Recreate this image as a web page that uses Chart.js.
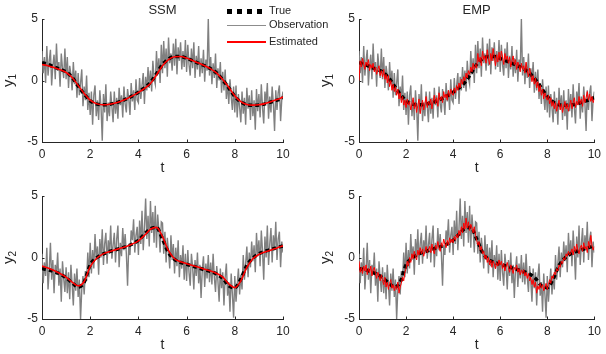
<!DOCTYPE html>
<html>
<head>
<meta charset="utf-8">
<script src="https://cdn.jsdelivr.net/npm/chart.js@4/dist/chart.umd.min.js"></script>
<style>
  body { margin: 0; background: #fff; width: 606px; height: 354px; overflow: hidden; position: relative; }
  canvas { position: absolute; }
  #legend { position: absolute; left: 227px; top: 3px; font: 11px "Liberation Sans", Arial, sans-serif; color: #262626; z-index: 5; }
  #legend .row { position: absolute; left: 0; white-space: nowrap; }
  #legend .txt { position: absolute; left: 42px; top: -7px; }
  #legend .ln { position: absolute; left: 0; width: 39px; }
</style>
</head>
<body>
<canvas id="c11" width="303" height="177" style="left:0;top:0"></canvas>
<canvas id="c12" width="303" height="177" style="left:303px;top:0"></canvas>
<canvas id="c21" width="303" height="177" style="left:0;top:177px"></canvas>
<canvas id="c22" width="303" height="177" style="left:303px;top:177px"></canvas>
<div id="legend">
  <div class="row" style="top:8px"><div class="ln" style="top:-2px;height:5px;width:36px;background:repeating-linear-gradient(90deg,#000 0 5px,transparent 5px 10px)"></div><span class="txt">True</span></div>
  <div class="row" style="top:21.5px"><div class="ln" style="top:0;height:1px;background:#8c8c8c"></div><span class="txt">Observation</span></div>
  <div class="row" style="top:38.5px"><div class="ln" style="top:-1px;height:2px;background:#ff0000"></div><span class="txt">Estimated</span></div>
</div>
<script>
  Chart.defaults.font.family = '"Liberation Sans", Arial, sans-serif';
  Chart.defaults.font.size = 12;
  Chart.defaults.color = '#262626';

  // sample times
  const tTrue = Array.from({ length: 41 }, (_, i) => i * 0.25);
  const tObs = Array.from({ length: 201 }, (_, i) => i * 0.05);
  const xTicks = [0, 2, 4, 6, 8, 10];
  const yTicks = [-5, 0, 5];

  // true states (every 0.25)
  const trueY1 = [1.45, 1.3, 1.1, 0.9, 0.7, 0.25, -0.45, -1.1, -1.65, -1.9, -1.97, -1.95, -1.85, -1.7, -1.5, -1.25, -0.95, -0.6, -0.15, 0.55,
    1.3, 1.75, 1.95, 1.95, 1.8, 1.6, 1.4, 1.2, 0.95, 0.6, 0.05, -0.6, -1.3, -1.75, -1.97, -2.02, -2.0, -1.9, -1.75, -1.6, -1.4];
  const trueY2 = [-0.9, -1.0, -1.15, -1.35, -1.65, -2.05, -2.4, -2.0, -0.6, -0.05, 0.25, 0.45, 0.6, 0.75, 0.9, 1.1, 1.4, 1.9, 2.35, 2.45,
    1.5, 0.4, -0.15, -0.4, -0.55, -0.7, -0.85, -1.0, -1.15, -1.35, -1.7, -2.3, -2.45, -1.75, -0.65, -0.05, 0.3, 0.5, 0.65, 0.8, 0.95];

  // SSM estimates (every 0.25)
  const ssmY1 = [1.3, 1.2, 1.05, 0.88, 0.65, 0.25, -0.4, -1.05, -1.6, -1.88, -1.97, -1.95, -1.85, -1.7, -1.5, -1.25, -0.97, -0.65, -0.25, 0.45,
    1.2, 1.7, 1.93, 1.95, 1.82, 1.62, 1.42, 1.2, 0.95, 0.6, 0.08, -0.55, -1.25, -1.72, -1.95, -2.0, -1.97, -1.88, -1.72, -1.55, -1.35];
  const ssmY2 = [-0.7, -0.85, -1.05, -1.3, -1.6, -2.0, -2.3, -1.95, -0.75, -0.1, 0.25, 0.45, 0.6, 0.75, 0.9, 1.1, 1.35, 1.8, 2.3, 2.45,
    1.7, 0.55, -0.1, -0.35, -0.5, -0.65, -0.8, -0.95, -1.1, -1.3, -1.6, -2.15, -2.45, -1.9, -0.8, -0.1, 0.25, 0.45, 0.6, 0.78, 0.95];

  // observations (every 0.05)
  const obsY1 = [2.4, 0.6, 1.9, -0.2, 2.8, 0.4, 1.6, 2.5, -0.4, 1.2, 2.1, 0.1, 3.0, 0.8, 1.5, -0.5, 2.2, 1.0, 0.2, 2.6,
    0.1, 1.9, -0.6, 1.2, 0.5, -0.8, 1.5, -0.3, 0.8, -1.4, 0.6, -1.2, -0.2, 0.9, -2.1, -0.5, -1.6, 0.4, -2.4, -1.0,
    -2.8, -0.9, -3.6, -1.2, -0.4, -2.9, -1.6, -3.2, -0.8, -2.2, -4.9, -1.1, -2.6, -0.3, -3.3, -1.8, -2.9, -0.9, -2.1, -3.4,
    -0.9, -2.7, -1.4, -3.1, -0.6, -2.0, -1.2, -3.0, -0.5, -1.9, -2.6, -0.7, -1.5, -2.8, -0.2, -1.7, -0.8, -2.4, 0.1, -1.6,
    -1.8, 0.2, -1.5, -0.4, 0.6, -1.9, 0.3, -0.8, 1.1, -0.6, 0.8, -0.9, 1.6, 0.2, -0.3, 2.4, 0.5, 1.8, -0.2, 2.9,
    0.6, 3.2, 1.0, 2.6, 0.3, 3.5, 1.4, 2.2, 0.8, 3.0, 1.2, 3.4, 0.5, 2.7, 1.6, 3.1, 0.9, 2.4, 1.1, 3.3,
    0.7, 2.9, 1.3, 0.4, 2.6, 1.0, 3.1, 0.2, 2.0, 0.9, 2.8, 0.3, 1.8, 0.6, 2.5, -0.1, 1.7, 0.8, 5.0, 0.4,
    1.9, -0.3, 1.4, 0.2, 2.2, -0.6, 1.0, 0.0, 1.5, -1.0, 0.7, -0.8, 0.9, -1.5, -0.2, -1.9, 0.1, -1.3, -2.4, -0.5,
    -2.6, -0.4, -3.0, -1.1, -2.2, -3.4, -0.9, -2.7, -1.4, -3.6, -0.6, -2.3, -1.2, -3.2, -0.8, -2.9, -1.6, -4.0, -0.7, -2.5,
    -1.1, -3.0, -0.3, -2.2, -3.5, -0.9, -1.8, -0.2, -3.1, -1.3, -2.6, -0.5, -1.9, -4.1, -0.8, -2.4, -1.0, -0.4, -3.3, -1.5, -0.9];
  const obsY2 = [0.3, -2.1, -0.4, -1.5, 0.8, -2.6, -1.0, 1.2, -1.8, -0.2, -2.9, -0.6, -1.4, 0.4, -2.3, -0.9, -3.6, -0.3, -1.7, -2.8,
    -0.8, -2.9, -1.2, -3.4, -0.6, -2.2, -3.9, -1.3, -2.7, -0.9, -3.2, -1.8, -5.0, -2.6, -1.5, -3.0, -1.1, -1.9, 0.4, -1.6,
    1.2, -1.3, 0.6, -0.9, 1.9, -0.2, 0.9, -1.4, 1.5, 0.0, 2.3, -0.6, 1.1, 2.0, -0.5, 1.4, 0.3, 2.6, -0.1, 1.0,
    2.0, -0.4, 1.5, 2.6, -0.8, 1.2, 0.1, 2.4, 0.6, 1.9, 0.3, -2.3, 1.0, 0.2, 2.2, 1.4, 3.1, 0.4, 1.8, 2.5,
    0.2, 3.0, 1.1, 3.8, 0.6, 2.4, 4.8, 1.5, 3.4, 0.9, 4.6, 2.0, 3.7, 1.2, 4.2, 0.8, 3.5, 2.2, 0.4, 2.9,
    2.8, 0.3, 2.1, -0.4, 1.6, 0.5, -0.9, 1.8, -0.2, 1.1, -1.3, 0.8, -0.7, 1.4, -1.6, 0.2, -0.9, 1.0, -1.8, 0.3,
    -1.9, 0.6, -1.2, -2.3, 0.3, -0.8, -2.6, -0.2, -1.5, 0.4, -2.1, -0.6, -3.3, -1.0, 0.1, -2.4, -0.5, -1.7, 0.2, -2.0,
    -0.4, -2.2, 0.3, -1.6, -2.8, -0.7, -1.9, -3.6, -0.9, -2.5, -1.2, -3.9, -1.6, -0.5, -3.1, -2.0, -4.4, -1.3, -3.0, -4.9,
    -1.5, -3.6, -2.2, -0.9, -3.0, -1.4, -2.6, 0.2, -1.8, -0.5, 0.9, -1.6, 0.4, -0.8, 1.3, -0.3, 1.0, -1.2, 2.0, 0.1,
    1.4, -0.7, 2.2, 0.5, -1.8, 1.7, 0.0, 2.6, -0.6, 1.1, 2.4, -0.4, 1.8, 0.6, 2.9, -0.2, 1.5, 2.1, -0.8, 1.3, 0.4];

  // EMP estimates (every 0.05)
  const empY1 = [0.0, 1.6, 1.1, 1.8, 1.3, 0.9, 1.5, 1.2, 1.7, 0.8, 1.3, 1.0, 1.4, 0.7, 1.1, 0.5, 0.9, 1.2, 0.4, 0.8,
    0.3, 0.9, 0.1, 0.5, -0.2, 0.4, -0.5, 0.0, -0.8, -0.3, -0.9, -0.5, -1.2, -0.7, -1.5, -1.0, -1.8, -1.3, -2.0, -1.6,
    -2.2, -1.5, -2.0, -1.7, -2.4, -1.9, -1.4, -2.3, -1.8, -2.6, -2.0, -1.5, -2.7, -2.1, -1.6, -2.4, -1.9, -1.3, -2.2, -1.7,
    -2.0, -1.5, -2.3, -1.7, -1.2, -1.9, -1.4, -2.1, -1.0, -1.6, -1.3, -1.8, -0.9, -1.4, -1.1, -1.6, -0.8, -1.3, -0.7, -1.1,
    -1.2, -0.6, -1.0, -0.4, -0.8, -0.2, -0.6, 0.1, -0.3, 0.3, 0.0, 0.6, 0.2, 0.8, 0.5, 1.1, 0.7, 1.4, 0.9, 1.3,
    1.0, 2.2, 1.5, 1.9, 1.2, 2.4, 1.7, 2.0, 1.4, 2.5, 1.8, 1.3, 2.2, 1.6, 2.6, 1.9, 1.2, 2.1, 1.5, 2.3,
    1.6, 2.4, 1.9, 1.3, 2.2, 1.7, 2.0, 1.4, 1.9, 1.1, 1.6, 2.0, 1.3, 1.7, 0.9, 1.5, 1.2, 0.7, 1.4, 0.9,
    1.2, 0.6, 1.5, 0.8, 0.3, 1.0, 0.5, -0.1, 0.4, -0.3, 0.2, -0.6, -0.1, -0.9, -0.4, -1.2, -0.7, -1.5, -1.0, -1.3,
    -1.6, -1.2, -1.9, -1.4, -2.1, -1.7, -2.3, -1.8, -2.5, -2.0, -1.6, -2.4, -1.9, -2.6, -2.1, -1.7, -2.3, -1.9, -2.5, -2.0,
    -1.6, -2.3, -1.8, -1.4, -2.2, -1.7, -2.0, -1.3, -1.9, -1.5, -2.1, -1.2, -1.8, -1.4, -0.9, -1.6, -1.1, -1.7, -1.3, -1.8, -1.5];
  const empY2 = [-0.3, -1.2, -0.8, -1.3, -0.7, -1.1, -0.6, -1.4, -0.9, -1.2, -0.7, -1.5, -1.0, -0.8, -1.3, -1.7, -1.2, -1.5, -1.9, -1.4,
    -1.8, -2.2, -1.6, -2.4, -2.0, -2.6, -2.1, -1.8, -2.5, -2.2, -2.7, -2.3, -2.6, -2.0, -2.9, -2.4, -2.1, -1.6, -1.9, -1.2,
    -0.9, -0.3, -0.7, 0.0, -0.4, 0.3, -0.1, 0.5, 0.1, -0.2, 0.6, 0.2, 0.8, 0.3, 0.7, 0.1, 0.5, 0.9, 0.4, 0.6,
    0.9, 0.4, 1.1, 0.6, 0.3, 1.0, 0.7, 1.3, 0.8, 0.5, 1.2, 0.9, 1.5, 1.1, 0.8, 1.4, 1.0, 1.6, 1.2, 1.5,
    1.2, 1.7, 1.4, 1.9, 1.6, 2.2, 1.8, 2.5, 2.0, 2.8, 2.3, 3.2, 2.4, 2.9, 2.2, 2.7, 2.4, 2.0, 2.5, 1.8,
    1.4, 1.0, 1.3, 0.6, 0.9, 0.3, 0.5, -0.1, 0.2, -0.4, 0.0, -0.6, -0.2, -0.8, -0.3, -0.5, -0.9, -0.4, -0.7, -0.2,
    -0.6, -0.3, -0.9, -0.5, -1.1, -0.7, -0.4, -0.8, -1.2, -0.6, -0.9, -1.3, -0.8, -1.0, -0.6, -1.2, -0.9, -1.4, -1.0, -1.3,
    -1.0, -1.5, -1.2, -1.7, -1.3, -1.9, -1.6, -2.2, -1.8, -2.4, -2.0, -2.9, -2.3, -2.6, -2.1, -2.5, -2.2, -2.7, -2.4, -2.1,
    -2.6, -2.2, -1.8, -2.1, -1.5, -1.7, -1.2, -1.4, -0.9, -1.1, -0.6, -0.8, -0.3, -0.5, 0.0, -0.2, 0.3, 0.1, 0.5, 0.2,
    0.4, 0.7, 0.2, 0.9, 0.5, 1.1, 0.6, 0.3, 0.8, 1.0, 0.5, 1.2, 0.7, 0.9, 0.4, 1.3, 0.8, 1.8, 1.0, 0.6, 0.9];

  const pts = (ts, ys) => ys.map((v, i) => ({ x: ts[i], y: v }));

  // titles, axis labels and inward tick marks
  const decor = {
    id: 'decor',
    afterDraw(chart, args, opts) {
      const { ctx, chartArea: { left, right, top, bottom } } = chart;
      const xs = chart.scales.x, ys = chart.scales.y;
      ctx.save();
      ctx.strokeStyle = '#262626';
      ctx.lineWidth = 1;
      ctx.beginPath();
      xTicks.forEach(v => {
        const px = Math.round(xs.getPixelForValue(v)) + 0.5;
        ctx.moveTo(px, bottom); ctx.lineTo(px, bottom - 2.5);
      });
      yTicks.forEach(v => {
        const py = Math.round(ys.getPixelForValue(v)) + 0.5;
        ctx.moveTo(left, py); ctx.lineTo(left + 2.5, py);
      });
      ctx.stroke();
      ctx.fillStyle = '#262626';
      ctx.textAlign = 'center';
      ctx.textBaseline = 'middle';
      ctx.font = '13px "Liberation Sans", Arial, sans-serif';
      if (opts.title) ctx.fillText(opts.title, (left + right) / 2, top - 8.5);
      ctx.font = '14px "Liberation Sans", Arial, sans-serif';
      ctx.fillText('t', (left + right) / 2, bottom + 26);
      // y label with subscript
      ctx.translate(left - 29, (top + bottom) / 2);
      ctx.rotate(-Math.PI / 2);
      ctx.textBaseline = 'alphabetic';
      ctx.textAlign = 'left';
      ctx.font = '15px "Liberation Sans", Arial, sans-serif';
      const wy = ctx.measureText('y').width;
      ctx.font = '10px "Liberation Sans", Arial, sans-serif';
      const ws = ctx.measureText(opts.sub).width;
      const x0 = -(wy + ws) / 2;
      ctx.font = '15px "Liberation Sans", Arial, sans-serif';
      ctx.fillText('y', x0, 0);
      ctx.font = '10px "Liberation Sans", Arial, sans-serif';
      ctx.fillText(opts.sub, x0 + wy, 3);
      ctx.restore();
    }
  };

  function makePanel(id, padLeft, padRight, obs, truth, est, tEst, redWidth, title, sub) {
    const smooth = tEst === tTrue;
    return new Chart(document.getElementById(id), {
      type: 'line',
      data: {
        datasets: [
          { data: pts(tEst, est), borderColor: '#ff0000', borderWidth: redWidth, pointRadius: 0,
            cubicInterpolationMode: smooth ? 'monotone' : 'default', tension: 0 },
          { data: pts(tTrue, truth), borderColor: '#000000', borderWidth: 3.5, borderDash: [4, 3], pointRadius: 0,
            cubicInterpolationMode: 'monotone' },
          { data: pts(tObs, obs), borderColor: '#808080', borderWidth: 1.4, pointRadius: 0, tension: 0 }
        ]
      },
      options: {
        responsive: false,
        animation: false,
        events: [],
        layout: { padding: { left: 0, right: padRight, top: 19, bottom: 0 } },
        plugins: { legend: { display: false }, tooltip: { enabled: false }, decor: { title: title, sub: sub } },
        scales: {
          x: {
            type: 'linear', min: 0, max: 10,
            afterFit: s => { s.height = 35; },
            afterBuildTicks: s => { s.ticks = xTicks.map(v => ({ value: v })); },
            grid: { drawOnChartArea: false, drawTicks: false },
            border: { display: true, color: '#262626', width: 1 },
            ticks: { padding: 5, maxRotation: 0, color: '#262626', font: { size: 12 } }
          },
          y: {
            type: 'linear', min: -5, max: 5,
            afterFit: s => { s.width = padLeft; },
            afterBuildTicks: s => { s.ticks = yTicks.map(v => ({ value: v })); },
            grid: { drawOnChartArea: false, drawTicks: false },
            border: { display: true, color: '#262626', width: 1 },
            ticks: { padding: 4, color: '#262626', font: { size: 12 } }
          }
        }
      },
      plugins: [decor]
    });
  }

  makePanel('c11', 42, 20, obsY1, trueY1, ssmY1, tTrue, 1.6, 'SSM', '1');
  makePanel('c12', 56, 3, obsY1, trueY1, empY1, tObs, 1, 'EMP', '1');
  makePanel('c21', 42, 20, obsY2, trueY2, ssmY2, tTrue, 1.6, '', '2');
  makePanel('c22', 56, 3, obsY2, trueY2, empY2, tObs, 1, '', '2');
</script>
</body>
</html>
